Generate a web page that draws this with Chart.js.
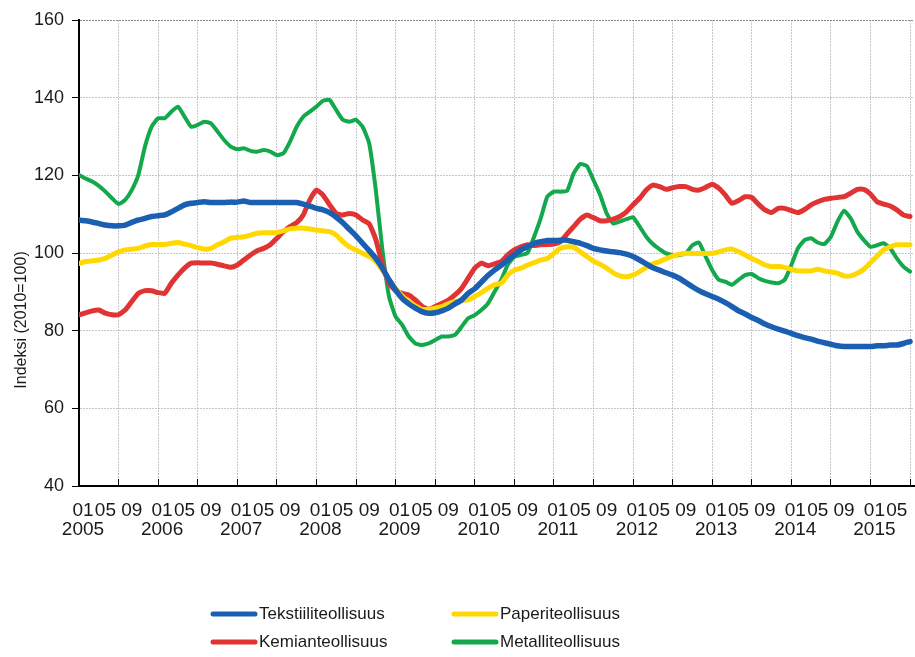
<!DOCTYPE html>
<html lang="fi">
<head>
<meta charset="UTF-8">
<title>Teollisuuden indeksit 2005–2015</title>
<script src="https://cdn.jsdelivr.net/npm/chart.js"></script>
<style>
  body { margin: 0; background: #fff; }
  canvas { display: block; }
</style>
</head>
<body>
<canvas id="indeksiChart" width="915" height="657"></canvas>
<script>
// monthly values 2005-01 ... 2015-07, index 2010=100
const firstYear = 2005;

const tekstiili = [
  108.5, 108.3, 108.0, 107.6, 107.2, 107.0, 107.0, 107.2, 107.9, 108.5,
  108.9, 109.4, 109.6, 109.8, 110.6, 111.5, 112.4, 112.8, 113.0, 113.2,
  113.0, 113.0, 113.0, 113.1, 113.1, 113.4, 113.0, 113.0, 113.0, 113.0,
  113.0, 113.0, 113.0, 113.0, 112.6, 112.1, 111.5, 111.1, 110.4, 109.2,
  107.8, 106.1, 104.4, 102.5, 100.6, 98.6, 96.1, 93.1, 90.5, 88.3,
  86.9, 85.8, 84.9, 84.5, 84.6, 85.1, 85.8, 86.9, 87.9, 89.6,
  90.8, 92.5, 94.2, 95.6, 96.8, 98.2, 99.5, 100.8, 101.6, 102.5,
  102.9, 103.2, 103.2, 103.3, 103.3, 102.9, 102.5, 101.9, 101.2, 100.8,
  100.5, 100.3, 100.1, 99.7, 99.1, 98.2, 97.2, 96.2, 95.6, 94.9,
  94.3, 93.5, 92.4, 91.3, 90.3, 89.5, 88.8, 88.1, 87.2, 86.2,
  85.1, 84.3, 83.4, 82.6, 81.7, 81.0, 80.4, 79.9, 79.3, 78.7,
  78.2, 77.8, 77.3, 76.9, 76.5, 76.1, 75.9, 75.9, 75.9, 75.9,
  75.9, 76.1, 76.1, 76.3, 76.3, 76.7, 77.2
];

const paperi = [
  97.3, 97.8, 98.0, 98.2, 98.6, 99.5, 100.3, 100.8, 101.0, 101.2,
  101.8, 102.2, 102.2, 102.2, 102.5, 102.7, 102.3, 101.9, 101.4, 101.0,
  101.2, 102.1, 102.9, 103.8, 104.0, 104.2, 104.6, 105.1, 105.2, 105.2,
  105.3, 105.7, 106.2, 106.4, 106.4, 106.2, 105.9, 105.7, 105.5, 104.6,
  102.9, 101.6, 100.8, 99.9, 99.1, 97.8, 95.6, 93.1, 90.9, 88.9,
  87.5, 86.4, 85.5, 85.5, 85.8, 86.2, 86.9, 87.5, 87.7, 87.9,
  88.8, 89.8, 90.9, 91.8, 92.2, 94.3, 95.6, 96.1, 96.9, 97.5,
  98.2, 98.6, 99.9, 101.2, 101.6, 101.5, 100.3, 99.1, 97.9, 97.1,
  96.1, 94.9, 94.1, 93.9, 94.3, 95.2, 96.3, 97.2, 97.8, 98.5,
  99.2, 99.7, 99.9, 99.9, 99.9, 99.9, 99.9, 100.3, 100.8, 101.0,
  100.3, 99.5, 98.6, 97.8, 96.9, 96.5, 96.5, 96.3, 95.8, 95.4,
  95.4, 95.4, 95.8, 95.4, 95.1, 94.8, 94.1, 94.1, 94.8, 95.8,
  97.5, 99.2, 100.8, 101.6, 102.1, 102.1, 102.1
];

const kemian = [
  84.1, 84.6, 85.1, 85.3, 84.5, 84.1, 84.1, 85.3, 87.5, 89.6,
  90.3, 90.3, 89.8, 89.6, 92.2, 94.3, 96.1, 97.4, 97.5, 97.4,
  97.4, 97.1, 96.7, 96.3, 96.9, 98.2, 99.5, 100.6, 101.2, 102.1,
  103.8, 105.5, 106.8, 107.8, 109.8, 113.7, 116.2, 114.9, 112.4, 110.2,
  109.8, 110.2, 109.8, 108.5, 107.5, 103.5, 97.0, 92.2, 90.3, 89.6,
  89.2, 87.9, 86.3, 85.5, 86.2, 87.0, 87.9, 89.2, 90.9, 93.5,
  96.1, 97.4, 96.7, 97.2, 97.8, 99.5, 100.8, 101.6, 102.1, 101.9,
  102.1, 102.2, 102.3, 102.9, 104.9, 106.8, 108.7, 109.8, 109.1, 108.3,
  108.3, 108.7, 109.4, 110.6, 112.4, 114.1, 116.2, 117.5, 117.1, 116.4,
  116.8, 117.1, 117.1, 116.4, 116.2, 116.9, 117.7, 116.7, 114.9, 112.8,
  113.5, 114.5, 114.3, 112.6, 111.1, 110.4, 111.5, 111.5, 110.9, 110.4,
  111.2, 112.4, 113.2, 113.8, 114.1, 114.3, 114.5, 115.4, 116.4, 116.4,
  115.2, 113.2, 112.6, 112.1, 111.1, 109.8, 109.4
];

const metalli = [
  120.1, 119.2, 118.4, 117.3, 115.8, 114.1, 112.6, 113.7, 116.2, 120.1,
  127.4, 132.5, 134.7, 134.7, 136.4, 137.7, 135.1, 132.5, 133.0, 133.8,
  133.4, 131.3, 129.1, 127.4, 126.7, 127.0, 126.3, 126.1, 126.5, 126.1,
  125.2, 125.7, 128.7, 132.5, 135.1, 136.4, 137.7, 139.2, 139.4, 136.8,
  134.3, 133.8, 134.3, 132.5, 128.2, 116.2, 100.8, 88.8, 83.6, 81.5,
  78.5, 76.7, 76.3, 76.7, 77.6, 78.5, 78.5, 78.9, 81.0, 83.2,
  84.0, 85.3, 87.0, 90.0, 93.0, 97.0, 99.0, 99.5, 100.0, 104.2,
  108.9, 114.5, 115.8, 115.8, 116.0, 120.5, 122.9, 122.4, 118.8, 115.0,
  110.2, 107.6, 108.1, 108.7, 109.2, 106.8, 104.2, 102.3, 101.0, 99.9,
  99.5, 99.5, 99.9, 102.0, 102.7, 99.1, 95.6, 93.1, 92.6, 91.8,
  93.1, 94.3, 94.6, 93.5, 92.8, 92.4, 92.2, 93.1, 96.9, 101.2,
  103.3, 103.8, 102.7, 102.3, 104.2, 108.1, 110.9, 108.9, 105.5, 103.3,
  101.6, 102.0, 102.5, 101.2, 98.6, 96.5, 95.2
];

const seriesNames = ['Tekstiiliteollisuus', 'Paperiteollisuus', 'Kemianteollisuus', 'Metalliteollisuus'];
const seriesColors = ['#1b5fb3', '#ffd800', '#e03434', '#12a84b'];
const seriesWidths = [5.5, 5, 5, 4];
const monthLabels = ['01', '05', '09'];
const yearLabels = ['2005', '2006', '2007', '2008', '2009', '2010', '2011', '2012', '2013', '2014', '2015'];
const yTitle = 'Indeksi (2010=100)';

const FONT = '"Liberation Sans", Arial, sans-serif';
const lastMonth = tekstiili.length - 1;

// x ticks: grid lines every 6 months, labels at 01 / 05 / 09
function buildXTicks() {
  const t = [];
  for (let m = 0; m <= lastMonth; m += 6) t.push({ value: m, grid: true, lbl: '' });
  yearLabels.forEach((yr, k) => {
    monthLabels.forEach((ml, j) => {
      const m = k * 12 + j * 4;
      if (m > lastMonth) return;
      if (j === 0) t.push({ value: m + 0.6, grid: false, lbl: [ml, yr] });
      else t.push({ value: m, grid: false, lbl: ml });
    });
  });
  return t.sort((a, b) => a.value - b.value);
}

const toPoints = arr => arr.map((v, i) => ({ x: i, y: v }));
const allSeries = [tekstiili, paperi, kemian, metalli];

const gridLegend = {
  id: 'gridLegend',
  afterDraw(chart) {
    const ctx = chart.ctx;
    const cols = [211, 452], rows = [614, 642];
    ctx.save();
    ctx.font = '17px ' + FONT;
    ctx.textBaseline = 'middle';
    chart.data.datasets.forEach((ds, i) => {
      const x = cols[i % 2], y = rows[Math.floor(i / 2)];
      ctx.strokeStyle = ds.borderColor;
      ctx.lineWidth = 5;
      ctx.lineCap = 'round';
      ctx.beginPath();
      ctx.moveTo(x + 2, y);
      ctx.lineTo(x + 44, y);
      ctx.stroke();
      ctx.fillStyle = '#1a1a1a';
      ctx.fillText(ds.label, x + 48, y);
    });
    ctx.restore();
  }
};

const yTitlePlugin = {
  id: 'yTitlePlugin',
  afterDraw(chart) {
    const ctx = chart.ctx;
    ctx.save();
    ctx.translate(22, 320);
    ctx.rotate(-Math.PI / 2);
    ctx.font = '16px ' + FONT;
    ctx.fillStyle = '#1a1a1a';
    ctx.textAlign = 'center';
    ctx.textBaseline = 'middle';
    ctx.fillText(yTitle, 0, 0);
    ctx.restore();
  }
};

new Chart(document.getElementById('indeksiChart'), {
  type: 'line',
  data: {
    datasets: allSeries.map((arr, i) => ({
      label: seriesNames[i],
      data: toPoints(arr),
      borderColor: seriesColors[i],
      backgroundColor: seriesColors[i],
      borderWidth: seriesWidths[i],
      pointRadius: 0,
      tension: 0.15,
      borderJoinStyle: 'round',
      borderCapStyle: 'round',
      fill: false
    }))
  },
  options: {
    responsive: false,
    animation: false,
    devicePixelRatio: 1,
    layout: { padding: { top: 20, right: 1, left: 0, bottom: 0 } },
    plugins: { legend: { display: false }, tooltip: { enabled: false } },
    scales: {
      x: {
        type: 'linear',
        min: 0,
        max: 126.6,
        afterBuildTicks: scale => { scale.ticks = buildXTicks(); },
        afterFit: scale => {
          scale.height = 171;
          scale.paddingLeft = 0;
          scale.paddingRight = 0;
        },
        grid: {
          color: c => (c.tick && c.tick.grid) ? 'rgba(160,160,175,0.6)' : 'transparent',
          tickColor: c => (c.tick && c.tick.grid) ? '#000' : 'transparent',
          tickLength: -7,
          drawTicks: true
        },
        border: { color: '#000', width: 2, dash: [2, 1] },
        ticks: {
          autoSkip: false,
          maxRotation: 0,
          minRotation: 0,
          padding: 22,
          color: '#1a1a1a',
          font: { family: FONT, size: 19, lineHeight: 1.0 },
          callback: (v, i, ticks) => ticks[i].lbl
        }
      },
      y: {
        min: 40,
        max: 160,
        afterFit: scale => { scale.width = 79; },
        grid: {
          color: c => (c.tick && c.tick.value === 160) ? '#8a8a8a' : 'rgba(160,160,175,0.6)',
          tickColor: '#000',
          tickLength: 7
        },
        border: { color: '#000', width: 2, dash: [2, 1] },
        ticks: {
          stepSize: 20,
          padding: 8,
          color: '#1a1a1a',
          font: { family: FONT, size: 18 }
        }
      }
    }
  },
  plugins: [gridLegend, yTitlePlugin]
});
</script>
</body>
</html>
